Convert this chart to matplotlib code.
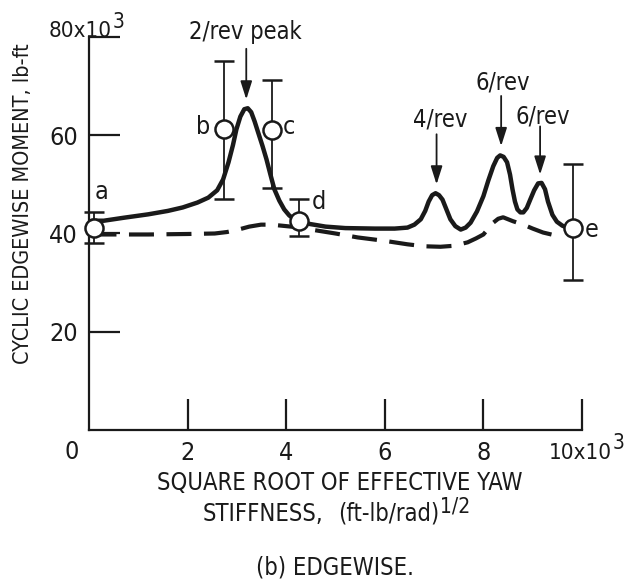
import os
import re
import matplotlib
matplotlib.use("Agg")
import matplotlib.pyplot as plt
from matplotlib import font_manager
from matplotlib.font_manager import FontProperties

# ---------------- data ----------------
solid_x = [0.05, 0.3, 0.7, 1.2, 1.6, 1.9, 2.2, 2.42, 2.6, 2.72, 2.83, 2.92, 2.99, 3.07,
           3.15, 3.22, 3.29, 3.36, 3.43, 3.52, 3.60, 3.68, 3.76, 3.86, 3.96, 4.06, 4.16,
           4.30, 4.5, 4.8, 5.2, 5.8, 6.2, 6.46, 6.6, 6.73, 6.82, 6.89, 6.96, 7.03, 7.10,
           7.17, 7.25, 7.33, 7.43, 7.54, 7.64, 7.74, 7.87, 8.0, 8.1, 8.2, 8.28, 8.34,
           8.41, 8.48, 8.54, 8.59, 8.64, 8.69, 8.75, 8.81, 8.88, 8.95, 9.03, 9.11, 9.18,
           9.25, 9.31, 9.40, 9.49, 9.60, 9.70, 9.78]
solid_y = [42.6, 42.6, 43.2, 43.9, 44.6, 45.3, 46.3, 47.3, 48.8, 51.0, 54.5, 58.0, 61.2, 63.8,
           65.3, 65.5, 64.7, 62.8, 60.6, 57.8, 55.1, 52.0, 49.0, 46.7, 44.9, 43.7, 42.9,
           42.3, 41.9, 41.4, 41.1, 41.0, 41.0, 41.2, 41.8, 42.9, 44.6, 46.5, 47.8, 48.2, 47.8,
           46.9, 44.9, 42.9, 41.5, 40.8, 41.2, 42.2, 44.5, 47.6, 50.8, 53.7, 55.4, 55.9,
           55.6, 54.5, 52.0, 49.0, 46.5, 44.9, 44.3, 44.3, 45.2, 46.9, 48.8, 50.2, 50.3,
           49.0, 46.5, 43.8, 42.4, 41.6, 41.2, 41.0]

dash_x = [0.05, 0.5, 1.2, 2.0, 2.55, 2.8, 3.03, 3.25, 3.49, 3.7, 3.9, 4.2, 4.44, 5.0, 5.45,
          6.0, 6.46, 6.8, 7.13, 7.4, 7.68, 7.85, 8.0, 8.1, 8.2, 8.3, 8.40, 8.6, 8.81, 9.0,
          9.21, 9.42, 9.62]
dash_y = [39.8, 39.8, 39.8, 39.9, 40.0, 40.3, 40.8, 41.4, 41.8, 41.8, 41.6, 41.3, 40.9, 40.0, 39.2,
          38.5, 37.8, 37.4, 37.3, 37.5, 38.2, 39.0, 39.8, 41.0, 42.2, 43.0, 43.3, 42.5, 41.8, 41.0,
          40.2, 39.7, 39.4]

pt_labels = ["a", "b", "c", "d", "e"]
pt_x = [0.1, 2.73, 3.72, 4.26, 9.82]
pt_y = [41.2, 61.2, 61.0, 42.5, 41.2]
pt_hi = [44.3, 75.1, 71.2, 47.1, 54.1]
pt_lo = [38.0, 47.1, 49.2, 39.4, 30.6]

x_ticks = [2, 4, 6, 8]
y_ticks = [20, 40, 60]

# ---------------- fonts: look for a condensed / narrow sans face ----------------
cand = []
for f in font_manager.fontManager.ttflist:
    base = os.path.basename(f.fname).lower()
    if re.search(r"(condensed|narrow)", base) and not re.search(
            r"(bold|italic|oblique|light|thin|black|medium|semi|extra|mono|serif)",
            base.replace("sans", "")):
        cand.append(f.fname)
cand.sort(key=lambda p: (0 if "liberationsansnarrow" in p.lower() else
                         1 if "dejavusanscondensed" in p.lower() else
                         2 if "roboto" in p.lower() else 3, p))
if cand:
    FP_PATH = cand[0]
    CONDENSED = True
else:
    FP_PATH = font_manager.findfont("DejaVu Sans")
    CONDENSED = False


def fp(size):
    return FontProperties(fname=FP_PATH, size=size)


S = 18 if CONDENSED else 15
L = 17 if CONDENSED else 14
M = 16 if CONDENSED else 13
INK = "#1a1a1a"
W, H = 627, 581
fig = plt.figure(figsize=(W / 100, H / 100), dpi=100)
ax = fig.add_axes([89 / W, 1 - 430 / H, (582 - 89) / W, (430 - 37) / H])
ax.set_xlim(0, 10)
ax.set_ylim(0, 80)
for s in ("top", "right"):
    ax.spines[s].set_visible(False)
for s in ("left", "bottom"):
    ax.spines[s].set_linewidth(1.6)
    ax.spines[s].set_color(INK)

ax.set_xticks(x_ticks + [10])
ax.set_xticklabels([str(v) for v in x_ticks] + [""])
ax.set_yticks(y_ticks + [80])
ax.set_yticklabels([str(v) for v in y_ticks] + [""])
ax.tick_params(axis="x", direction="in", length=22, width=1.6, color=INK, pad=8,
               labelcolor=INK)
ax.tick_params(axis="y", direction="in", length=22, width=1.6, color=INK, pad=8,
               labelcolor=INK)
for lab in ax.get_xticklabels() + ax.get_yticklabels():
    lab.set_fontproperties(fp(S))

# curves
ax.plot(solid_x, solid_y, color=INK, lw=3.2, solid_capstyle="round", solid_joinstyle="round")
ax.plot(dash_x, dash_y, color=INK, lw=3.0, dashes=(6, 3))

# data points with error bars
yerr = [[y - lo for y, lo in zip(pt_y, pt_lo)], [hi - y for y, hi in zip(pt_y, pt_hi)]]
ax.errorbar(pt_x, pt_y, yerr=yerr, fmt="o", ms=13, mfc="white", mec=INK, mew=1.8,
            ecolor=INK, elinewidth=1.3, capsize=7, capthick=1.3, zorder=5, clip_on=False)

# point letters
letter_pos = [(0.26, 48.4), (2.32, 61.6), (4.06, 61.6), (4.67, 46.5), (10.2, 40.8)]
for lab, (lx, ly) in zip(pt_labels, letter_pos):
    ax.text(lx, ly, lab, fontproperties=fp(S), ha="center", va="center", color=INK,
            clip_on=False)

# peak annotations
notes = [("2/rev peak", 3.17, 81.0, 3.19, 77.6, 67.3),
         ("4/rev", 7.13, 63.3, 7.05, 60.2, 50.0),
         ("6/rev", 8.40, 70.8, 8.36, 68.0, 57.8),
         ("6/rev", 9.21, 63.9, 9.15, 61.8, 52.0)]
for txt, tx, ty, ax_x, y0, y1 in notes:
    ax.text(tx, ty, txt, fontproperties=fp(S - 1), ha="center", va="center", color=INK,
            clip_on=False)
    ax.annotate("", xy=(ax_x, y1), xytext=(ax_x, y0),
                arrowprops=dict(arrowstyle="-|>,head_length=1.1,head_width=0.35",
                                color=INK, lw=1.3, shrinkA=0, shrinkB=0),
                annotation_clip=False)


def sup_text(x_px, base_px, base, sup, size, sup_size, raise_px, ha="left"):
    """Base text with its baseline at base_px (pixels from top), then a raised superscript."""
    t = fig.text(x_px / W, 1 - base_px / H, base, fontproperties=fp(size), ha=ha,
                 va="baseline", color=INK)
    fig.canvas.draw()
    bb = t.get_window_extent()
    fig.text(bb.x1 / W + 0.5 / W, 1 - (base_px - raise_px) / H, sup,
             fontproperties=fp(sup_size), ha="left", va="baseline", color=INK)


# manual tick labels
fig.text(72 / W, 1 - 452 / H, "0", fontproperties=fp(S), ha="center", va="center", color=INK)
sup_text(549, 459, "10x10", "3", M, M - 1, 10)
sup_text(112, 37, "80x10", "3", M, M - 1, 9, ha="right")

# axis titles
fig.text(23 / W, 1 - 204 / H, "CYCLIC EDGEWISE MOMENT, lb-ft", fontproperties=fp(15.5),
         rotation=90, ha="center", va="center", color=INK)
fig.text(340 / W, 1 - 483 / H, "SQUARE ROOT OF EFFECTIVE YAW", fontproperties=fp(L),
         ha="center", va="center", color=INK)
fig.text(323 / W, 1 - 514 / H, "STIFFNESS,", fontproperties=fp(L), ha="right",
         va="center", color=INK)
sup_text(338, 521, "(ft-lb/rad)", "1/2", L, L - 2, 9)
fig.text(335 / W, 1 - 568 / H, "(b) EDGEWISE.", fontproperties=fp(L), ha="center",
         va="center", color=INK)

fig.savefig("out.png", dpi=100, facecolor="white")
